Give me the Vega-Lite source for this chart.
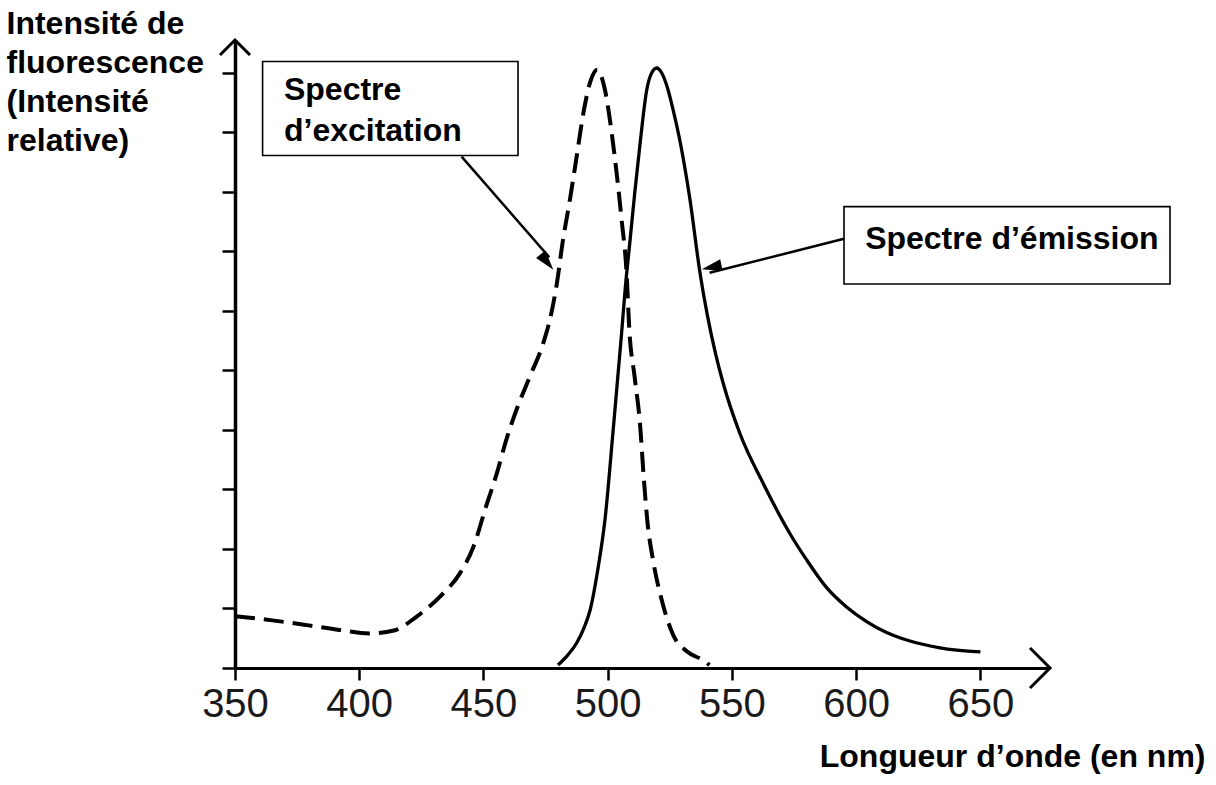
{
  "$schema": "https://vega.github.io/schema/vega-lite/v6.json",
  "width": 815,
  "height": 628,
  "autosize": {"type": "none"},
  "padding": {"left": 235, "top": 40, "right": 166, "bottom": 117},
  "background": "white",
  "config": {"view": {"stroke": null}, "axis": {"grid": false}},
  "datasets": {
    "excitation": [
      {"nm": 350, "v": 0.87}, {"nm": 365, "v": 0.8}, {"nm": 379, "v": 0.72}, {"nm": 392, "v": 0.64},
      {"nm": 404, "v": 0.58}, {"nm": 414, "v": 0.63}, {"nm": 423, "v": 0.86}, {"nm": 432.5, "v": 1.2},
      {"nm": 440.5, "v": 1.59}, {"nm": 446, "v": 2.04}, {"nm": 451, "v": 2.71}, {"nm": 455.3, "v": 3.26},
      {"nm": 459.3, "v": 3.85}, {"nm": 463.4, "v": 4.35}, {"nm": 468.7, "v": 4.9}, {"nm": 474, "v": 5.45},
      {"nm": 477, "v": 5.9}, {"nm": 479.5, "v": 6.45}, {"nm": 482, "v": 7.19}, {"nm": 484.8, "v": 7.87},
      {"nm": 487.5, "v": 8.59}, {"nm": 490.2, "v": 9.32}, {"nm": 493, "v": 9.85}, {"nm": 495.8, "v": 10.05},
      {"nm": 498.9, "v": 9.71}, {"nm": 501.6, "v": 8.99}, {"nm": 503.6, "v": 8.31}, {"nm": 505.6, "v": 7.53},
      {"nm": 507.6, "v": 6.63}, {"nm": 508.7, "v": 5.68}, {"nm": 510.8, "v": 4.9}, {"nm": 513, "v": 4.1},
      {"nm": 514.5, "v": 3.2}, {"nm": 516, "v": 2.45}, {"nm": 518.3, "v": 1.8}, {"nm": 522, "v": 1.1},
      {"nm": 526.4, "v": 0.55}, {"nm": 531.8, "v": 0.28}, {"nm": 538.4, "v": 0.13}, {"nm": 541, "v": 0.05}
    ],
    "emission": [
      {"nm": 480, "v": 0.05}, {"nm": 484, "v": 0.22}, {"nm": 487.5, "v": 0.42}, {"nm": 490.5, "v": 0.68},
      {"nm": 492.9, "v": 0.97}, {"nm": 496.2, "v": 1.7}, {"nm": 498.9, "v": 2.49}, {"nm": 502.2, "v": 4.0},
      {"nm": 505.6, "v": 5.63}, {"nm": 507, "v": 6.35}, {"nm": 509, "v": 7.19}, {"nm": 511, "v": 8.03},
      {"nm": 513, "v": 8.8}, {"nm": 515.7, "v": 9.71}, {"nm": 517.5, "v": 9.98}, {"nm": 519.7, "v": 10.08},
      {"nm": 521.7, "v": 10.0}, {"nm": 523.8, "v": 9.78}, {"nm": 526.3, "v": 9.38}, {"nm": 529, "v": 8.87},
      {"nm": 533.1, "v": 7.87}, {"nm": 537.1, "v": 6.65}, {"nm": 540, "v": 5.95}, {"nm": 543.3, "v": 5.3},
      {"nm": 546.5, "v": 4.78}, {"nm": 553.2, "v": 3.94}, {"nm": 562.6, "v": 3.1}, {"nm": 573.3, "v": 2.26},
      {"nm": 580, "v": 1.82}, {"nm": 588.1, "v": 1.35}, {"nm": 596, "v": 1.03}, {"nm": 604.2, "v": 0.78},
      {"nm": 612, "v": 0.6}, {"nm": 620.3, "v": 0.47}, {"nm": 633.7, "v": 0.34}, {"nm": 650, "v": 0.27}
    ],
    "boxes": [
      {"nm": 361.1, "v": 10.19, "nm2": 463.9, "v2": 8.61},
      {"nm": 595.1, "v": 7.75, "nm2": 726.3, "v2": 6.45}
    ],
    "labels": [
      {"nm": 369.7, "v": 9.55, "t": "Spectre"},
      {"nm": 369.7, "v": 8.86, "t": "d’excitation"},
      {"nm": 603.6, "v": 7.04, "t": "Spectre d’émission"}
    ],
    "arrows": [
      {"nm": 441.2, "v": 8.59, "nm2": 476.5, "v2": 6.9},
      {"nm": 595.1, "v": 7.21, "nm2": 541, "v2": 6.64}
    ]
  },
  "encoding": {
    "x": {
      "field": "nm",
      "type": "quantitative",
      "scale": {"domain": [350, 678], "nice": false, "zero": false},
      "axis": {
        "values": [350, 400, 450, 500, 550, 600, 650],
        "format": "d",
        "title": "Longueur d’onde (en nm)",
        "titleFont": "Liberation Sans",
        "titleFontSize": 32,
        "titleFontWeight": "bold",
        "titleColor": "#000000",
        "titleAlign": "right",
        "titleBaseline": "alphabetic",
        "titleX": 970,
        "titleY": 98,
        "labelFont": "Liberation Sans",
        "labelFontSize": 40,
        "labelColor": "#1a1a1a",
        "labelFlush": false,
        "labelOverlap": false,
        "labelBaseline": "alphabetic",
        "labelPadding": 36,
        "tickSize": 12,
        "tickWidth": 2.5,
        "tickColor": "#000000",
        "domainColor": "#000000",
        "domainWidth": 3,
        "grid": false
      }
    },
    "y": {
      "field": "v",
      "type": "quantitative",
      "scale": {"domain": [0, 10.55], "nice": false, "zero": true},
      "axis": {
        "values": [0, 1, 2, 3, 4, 5, 6, 7, 8, 9, 10],
        "labels": false,
        "tickSize": 13,
        "tickWidth": 2.5,
        "tickColor": "#000000",
        "domainColor": "#000000",
        "domainWidth": 3.5,
        "title": ["Intensité de", "fluorescence", "(Intensité", "relative)"],
        "titleAngle": 0,
        "titleAlign": "left",
        "titleBaseline": "top",
        "titleX": -229,
        "titleY": -32,
        "titleLineHeight": 39,
        "titleFont": "Liberation Sans",
        "titleFontSize": 32,
        "titleFontWeight": "bold",
        "titleColor": "#000000",
        "grid": false
      }
    }
  },
  "layer": [
    {
      "data": {"name": "excitation"},
      "mark": {"type": "line", "color": "#000000", "strokeWidth": 4, "strokeDash": [20, 9], "interpolate": "monotone"},
      "encoding": {}
    },
    {
      "data": {"name": "emission"},
      "mark": {"type": "line", "color": "#000000", "strokeWidth": 3.3, "interpolate": "monotone"},
      "encoding": {}
    },
    {
      "data": {"name": "boxes"},
      "mark": {"type": "rect", "fill": "#ffffff", "stroke": "#000000", "strokeWidth": 1.6},
      "encoding": {"x2": {"field": "nm2"}, "y2": {"field": "v2"}}
    },
    {
      "data": {"name": "labels"},
      "mark": {"type": "text", "align": "left", "baseline": "alphabetic", "font": "Liberation Sans", "fontSize": 32, "fontWeight": "bold", "color": "#000000"},
      "encoding": {"text": {"field": "t"}}
    },
    {
      "data": {"name": "arrows"},
      "mark": {"type": "rule", "color": "#000000", "strokeWidth": 2.5},
      "encoding": {"x2": {"field": "nm2"}, "y2": {"field": "v2"}}
    },
    {
      "data": {"values": [{"nm": 478.1, "v": 6.69}]},
      "mark": {"type": "point", "shape": "M 0 0 L -0.6 2 L 0.6 2 Z", "filled": true, "color": "#000000", "opacity": 1, "size": 400, "angle": 141},
      "encoding": {}
    },
    {
      "data": {"values": [{"nm": 537.9, "v": 6.7}]},
      "mark": {"type": "point", "shape": "M 0 0 L -0.6 2 L 0.6 2 Z", "filled": true, "color": "#000000", "opacity": 1, "size": 400, "angle": 258},
      "encoding": {}
    },
    {
      "data": {"values": [{"nm": 350, "v": 10.55}]},
      "mark": {"type": "point", "shape": "M -1 1 L 0 0 L 1 1", "filled": false, "color": "#000000", "strokeWidth": 3, "opacity": 1, "size": 900},
      "encoding": {}
    },
    {
      "data": {"values": [{"nm": 678, "v": 0}]},
      "mark": {"type": "point", "shape": "M -1 -1 L 0 0 L -1 1", "filled": false, "color": "#000000", "strokeWidth": 3, "opacity": 1, "size": 1600},
      "encoding": {}
    }
  ]
}
